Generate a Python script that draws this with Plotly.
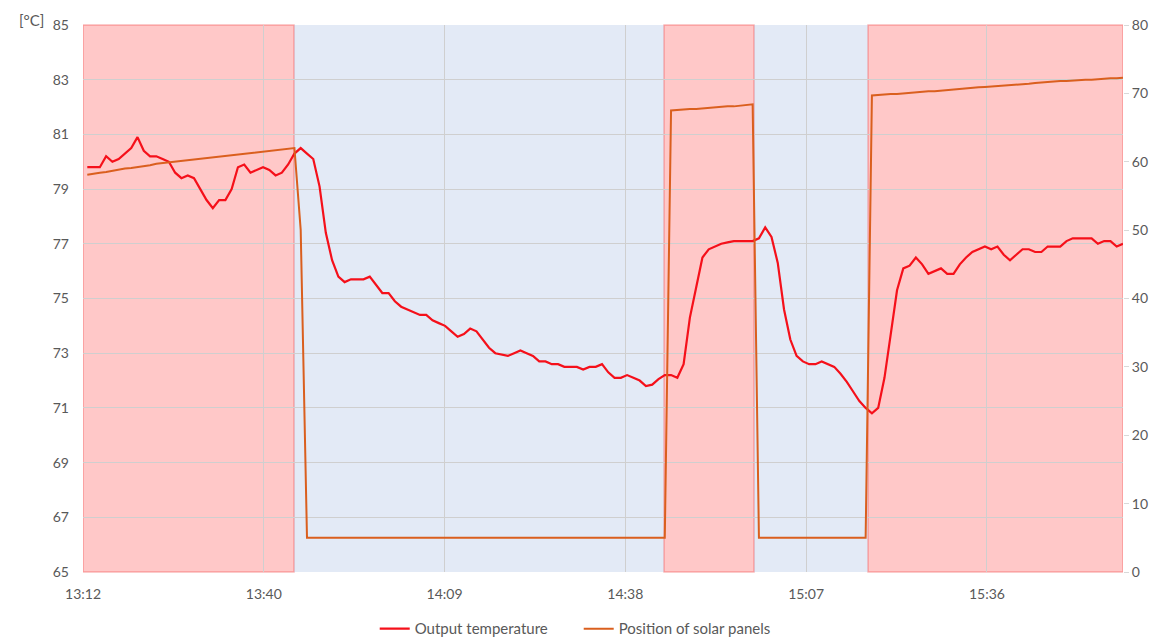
import pandas as pd
import plotly.graph_objects as go

# ---------------- data ----------------
day = "2024-01-01 "
start_time = "13:12:41"          # first sample, one sample per minute

output_temperature = [
    79.8, 79.8, 79.8, 80.2, 80.0, 80.1, 80.3, 80.5, 80.9, 80.4,
    80.2, 80.2, 80.1, 80.0, 79.6, 79.4, 79.5, 79.4, 79.0, 78.6,
    78.3, 78.6, 78.6, 79.0, 79.8, 79.9, 79.6, 79.7, 79.8, 79.7,
    79.5, 79.6, 79.9, 80.3, 80.5, 80.3, 80.1, 79.1, 77.4, 76.4,
    75.8, 75.6, 75.7, 75.7, 75.7, 75.8, 75.5, 75.2, 75.2, 74.9,
    74.7, 74.6, 74.5, 74.4, 74.4, 74.2, 74.1, 74.0, 73.8, 73.6,
    73.7, 73.9, 73.8, 73.5, 73.2, 73.0, 72.95, 72.9, 73.0, 73.1,
    73.0, 72.9, 72.7, 72.7, 72.6, 72.6, 72.5, 72.5, 72.5, 72.4,
    72.5, 72.5, 72.6, 72.3, 72.1, 72.1, 72.2, 72.1, 72.0, 71.8,
    71.85, 72.05, 72.2, 72.2, 72.1, 72.6, 74.3, 75.4, 76.5, 76.8,
    76.9, 77.0, 77.05, 77.1, 77.1, 77.1, 77.1, 77.2, 77.6, 77.25,
    76.3, 74.6, 73.5, 72.9, 72.7, 72.6, 72.6, 72.7, 72.6, 72.5,
    72.25, 71.95, 71.6, 71.25, 71.0, 70.8, 71.0, 72.1, 73.7, 75.3,
    76.1, 76.2, 76.5, 76.25, 75.9, 76.0, 76.1, 75.9, 75.9, 76.25,
    76.5, 76.7, 76.8, 76.9, 76.8, 76.9, 76.6, 76.4, 76.6, 76.8,
    76.8, 76.7, 76.7, 76.9, 76.9, 76.9, 77.1, 77.2, 77.2, 77.2,
    77.2, 77.0, 77.1, 77.1, 76.9, 77.0,
]

panel_position = [
    58.1, 58.3, 58.4, 58.5, 58.7, 58.8, 59.0, 59.1, 59.2, 59.4,
    59.5, 59.7, 59.8, 60.0, 60.1, 60.2, 60.3, 60.4, 60.5, 60.6,
    60.7, 60.7, 60.8, 60.9, 61.0, 61.1, 61.2, 61.3, 61.4, 61.5,
    61.6, 61.7, 61.9, 62.0, 50.0,
    5.0, 5.0, 5.0, 5.0, 5.0, 5.0, 5.0, 5.0, 5.0, 5.0,
    5.0, 5.0, 5.0, 5.0, 5.0, 5.0, 5.0, 5.0, 5.0, 5.0,
    5.0, 5.0, 5.0, 5.0, 5.0, 5.0, 5.0, 5.0, 5.0, 5.0,
    5.0, 5.0, 5.0, 5.0, 5.0, 5.0, 5.0, 5.0, 5.0, 5.0,
    5.0, 5.0, 5.0, 5.0, 5.0, 5.0, 5.0, 5.0, 5.0, 5.0,
    5.0, 5.0, 5.0, 5.0, 5.0, 5.0, 5.0, 5.0,
    67.5, 67.6, 67.6, 67.7, 67.7, 67.8, 67.9, 67.9, 68.0, 68.1,
    68.1, 68.2, 68.3, 68.4,
    5.0, 5.0, 5.0, 5.0, 5.0, 5.0, 5.0, 5.0, 5.0, 5.0,
    5.0, 5.0, 5.0, 5.0, 5.0, 5.0, 5.0, 5.0,
    69.7, 69.8, 69.8, 69.9, 69.9, 70.0, 70.1, 70.1, 70.2, 70.3,
    70.3, 70.4, 70.5, 70.5, 70.6, 70.7, 70.8, 70.9, 70.95, 71.0,
    71.1, 71.1, 71.2, 71.3, 71.3, 71.4, 71.5, 71.6, 71.6, 71.7,
    71.8, 71.8, 71.9, 71.9, 72.0, 72.0, 72.1, 72.1, 72.2, 72.2,
    72.3,
]

# shaded periods: boundaries and state (tracking = red, fixed = blue)
region_edges = ["13:12:00", "13:45:37", "14:44:34", "14:58:54", "15:17:04", "15:57:41"]
region_state = ["tracking", "fixed", "tracking", "fixed", "tracking"]

# x ticks every 0.02 day (28.8 min), shown as HH:MM
x_tick_times = ["13:12:00", "13:40:48", "14:09:36", "14:38:24", "15:07:12", "15:36:00"]
x_tick_labels = ["13:12", "13:40", "14:09", "14:38", "15:07", "15:36"]

# ---------------- figure ----------------
times = pd.date_range(day + start_time, periods=len(output_temperature), freq="1min")

fig = go.Figure()

fig.add_trace(go.Scatter(
    x=times, y=output_temperature, name="Output temperature",
    mode="lines", line=dict(color="#F5101A", width=2.2), yaxis="y",
))
fig.add_trace(go.Scatter(
    x=times, y=panel_position, name="Position of solar panels",
    mode="lines", line=dict(color="#DA5F1E", width=2), yaxis="y2",
))

fill = {"tracking": "rgba(255,0,0,0.215)", "fixed": "rgba(68,114,196,0.15)"}
border = {"tracking": "rgba(240,60,60,0.35)", "fixed": "rgba(0,0,0,0)"}
for a, b, s in zip(region_edges[:-1], region_edges[1:], region_state):
    fig.add_shape(type="rect", xref="x", yref="paper",
                  x0=day + a, x1=day + b, y0=0, y1=1,
                  fillcolor=fill[s], line=dict(color=border[s], width=1.5),
                  layer="between")

font_family = "Lato, 'Open Sans', sans-serif"
grey = "#595959"
grid = "#CFCFCF"

# the page body has an 8px margin, so the figure is 8px smaller
fig.update_layout(
    width=1153, height=631,
    margin=dict(l=75, r=38, t=17, b=67, autoexpand=False),
    paper_bgcolor="white", plot_bgcolor="white",
    font=dict(family=font_family, size=14, color=grey),
    showlegend=True,
    legend=dict(orientation="h", x=0.2805, xanchor="left", y=-0.104, yanchor="middle",
                font=dict(size=15, color=grey), entrywidth=159, entrywidthmode="pixels",
                bgcolor="rgba(0,0,0,0)"),
    xaxis=dict(
        type="date",
        range=[day + region_edges[0], day + region_edges[-1]],
        tickmode="array",
        tickvals=[day + t for t in x_tick_times],
        ticktext=x_tick_labels,
        showgrid=True, gridcolor=grid, gridwidth=1,
        showline=False, zeroline=False, ticks="",
        ticklabelstandoff=12, automargin=False,
        tickfont=dict(size=14, color=grey),
    ),
    yaxis=dict(
        range=[65, 85], dtick=2, tick0=65,
        showgrid=True, gridcolor=grid, gridwidth=1,
        zeroline=False, showline=False, ticks="",
        ticklabelstandoff=13, automargin=False,
        tickfont=dict(size=14, color=grey),
    ),
    yaxis2=dict(
        range=[0, 80], dtick=10, tick0=0, overlaying="y", side="right",
        showgrid=False, zeroline=False, showline=False,
        ticks="outside", ticklen=5, tickcolor="#D9D9D9",
        automargin=False,
        tickfont=dict(size=14, color=grey),
    ),
)

fig.add_annotation(text="[°C]", xref="paper", yref="paper", x=-0.036, y=1.01,
                   xanchor="right", yanchor="middle", showarrow=False,
                   font=dict(size=15, color=grey))

fig.write_html("out.html")
